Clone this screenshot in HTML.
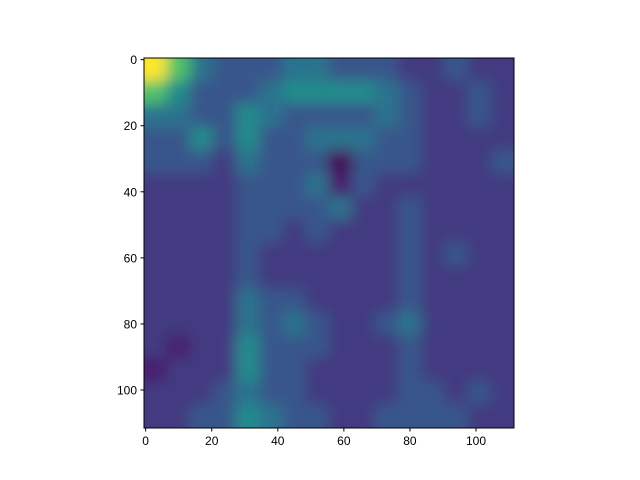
<!DOCTYPE html>
<html><head><meta charset="utf-8"><style>
body{margin:0;background:#fff;}
svg{display:block;font-family:"Liberation Sans",sans-serif;}
</style></head><body>
<svg id="chart" width="640" height="480">
<defs>
<filter id="bl" filterUnits="userSpaceOnUse" x="94" y="8" width="470" height="470">
<feGaussianBlur stdDeviation="7"/>
</filter>
<clipPath id="cp"><rect x="144" y="58" width="370" height="370"/></clipPath>
</defs>
<g clip-path="url(#cp)"><g id="cells" filter="url(#bl)"></g></g>
<rect x="144" y="58" width="370" height="370" fill="none" stroke="#000" stroke-width="1"/>
<g id="axes"></g>
</svg>
<script>
const gridValues = [
[9,7,4,3,3,3,4,4,3,3,3,2,2,3,2,2],
[7,5,3,3,3,4,5,5,5,5,4,3,2,2,3,2],
[4,4,3,3,5,4,3,3,3,3,4,3,2,2,3,2],
[3,3,5,3,5,3,3,4,4,4,3,3,2,2,2,2],
[3,3,3,2,4,3,3,3,0,3,3,3,2,2,2,3],
[2,2,2,2,3,3,3,4,1,3,2,2,2,2,2,2],
[2,2,2,2,3,3,3,3,4,2,2,3,2,2,2,2],
[2,2,2,2,3,3,2,3,2,2,2,3,2,2,2,2],
[2,2,2,2,3,2,2,2,2,2,2,3,2,3,2,2],
[2,2,2,2,3,2,2,2,2,2,2,3,2,2,2,2],
[2,2,2,2,4,3,3,2,2,2,2,3,2,2,2,2],
[2,2,2,2,4,3,4,3,2,2,3,4,2,2,2,2],
[2,1,2,2,5,3,3,3,2,2,2,3,2,2,2,2],
[1,2,2,2,5,3,3,2,2,2,2,3,2,2,2,2],
[2,2,2,3,4,3,3,2,2,2,2,3,3,2,3,2],
[2,2,3,3,5,4,3,3,2,2,3,3,3,3,2,2]
];
const xTicks = [0,20,40,60,80,100];
const yTicks = [0,20,40,60,80,100];
const imgSize = 112;
const cellUnits = 7;
const levelT = [0,0.08,0.17,0.27,0.38,0.48,0.6,0.72,0.86,1];
const vir = [[68,1,84],[72,40,120],[62,74,137],[49,104,142],[38,130,142],[31,158,137],[53,183,121],[109,205,89],[180,222,44],[253,231,37]];
function viridis(t){const p=t*(vir.length-1);const i=Math.min(Math.floor(p),vir.length-2);const f=p-i;
 const c=vir[i].map((a,k)=>Math.round(a+(vir[i+1][k]-a)*f));return `rgb(${c[0]},${c[1]},${c[2]})`;}
const x0=144,y0=58,W=370,H=370;
const sx=v=>x0+(v+0.5)*W/imgSize;
const sy=v=>y0+(v+0.5)*H/imgSize;
const px=u=>x0+u*W/imgSize, py=u=>y0+u*H/imgSize;
const ns="http://www.w3.org/2000/svg";
const cells=document.getElementById('cells');
const n=gridValues.length, cw=W/imgSize*cellUnits, pad=40;
gridValues.forEach((row,r)=>row.forEach((v,c)=>{
 const el=document.createElementNS(ns,'rect');
 
 
 let x=px(c*cellUnits)-0.5, y=py(r*cellUnits)-0.5, w=cw+1, h=cw+1;
 if(c===0){x-=pad;w+=pad;} if(c===row.length-1){w+=pad;}
 if(r===0){y-=pad;h+=pad;} if(r===n-1){h+=pad;}
 el.setAttribute('x',x);el.setAttribute('y',y);
 el.setAttribute('width',w);el.setAttribute('height',h);
 el.setAttribute('fill',viridis(levelT[v]));cells.appendChild(el);
}));
const axes=document.getElementById('axes');
xTicks.forEach(t=>{
 const x=sx(t);
 const l=document.createElementNS(ns,'line');
 
 
 l.setAttribute('x1',x);l.setAttribute('x2',x);l.setAttribute('y1',428);l.setAttribute('y2',431.5);l.setAttribute('stroke','#000');axes.appendChild(l);
 const tx=document.createElementNS(ns,'text');
 
 
 tx.setAttribute('x',x);tx.setAttribute('y',445);tx.setAttribute('text-anchor','middle');tx.setAttribute('font-size','12');tx.textContent=t;axes.appendChild(tx);
});
yTicks.forEach(t=>{
 const y=sy(t);
 const l=document.createElementNS(ns,'line');
 
 
 l.setAttribute('x1',140.5);l.setAttribute('x2',144);l.setAttribute('y1',y);l.setAttribute('y2',y);l.setAttribute('stroke','#000');axes.appendChild(l);
 const tx=document.createElementNS(ns,'text');
 
 
 tx.setAttribute('x',137);tx.setAttribute('y',y+4.5);tx.setAttribute('text-anchor','end');tx.setAttribute('font-size','12');tx.textContent=t;axes.appendChild(tx);
});
</script>
</body></html>
